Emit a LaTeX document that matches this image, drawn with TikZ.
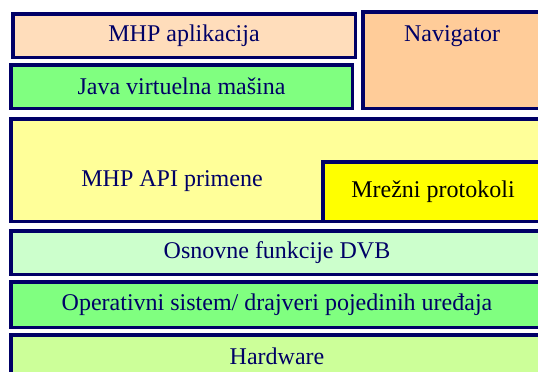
\documentclass[tikz,border=0pt]{standalone}
\usepackage{fontspec}
\setmainfont{Liberation Serif}
\usepackage{xcolor}
\definecolor{mhpnavy}{RGB}{0,0,102}
\definecolor{mhppeach}{RGB}{255,221,187}
\definecolor{mhporange}{RGB}{255,204,153}
\definecolor{mhpgreen}{RGB}{128,255,128}
\definecolor{mhpcream}{RGB}{255,255,153}
\definecolor{mhpyellow}{RGB}{255,255,0}
\definecolor{mhpmint}{RGB}{204,255,204}
\definecolor{mhplime}{RGB}{204,255,153}
\usetikzlibrary{positioning}

\begin{document}
\begin{tikzpicture}[x=1pt, y=-1pt,
    layer/.style={draw=mhpnavy, line width=3.5pt, inner sep=0pt,
                  text=mhpnavy, font=\fontsize{24}{28}\selectfont},
    caption/.style={text=mhpnavy, inner sep=0pt,
                    font=\fontsize{24}{28}\selectfont}
  ]
    \useasboundingbox (0,0) rectangle (538,372);
    \clip (0,0) rectangle (538,372);

    % MHP aplikacija
    \node[layer, fill=mhppeach, minimum width=342.5pt, minimum height=43.5pt]
      (app) at (184,35.5) {MHP aplikacija};

    % Java virtuelna masina
    \node[layer, fill=mhpgreen, minimum width=341.5pt, minimum height=43.5pt]
      (jvm) at (181.5,86.5) {Java virtuelna mašina};

    % Navigator
    \node[layer, fill=mhporange, minimum width=180.5pt, minimum height=96.5pt]
      (nav) at (453,60) {};
    \node[caption] (navtxt) at (452,36) {Navigator};

    % MHP API primene
    \node[layer, fill=mhpcream, minimum width=532.5pt, minimum height=102.5pt]
      (api) at (277,170) {};
    \node[caption] (apitxt) at (172,181) {MHP API primene};

    % Mrezni protokoli
    \node[layer, fill=mhpyellow, text=black, minimum width=220.5pt, minimum height=59.5pt]
      (net) at (433,191.5) {Mrežni protokoli};

    % Osnovne funkcije DVB
    \node[layer, fill=mhpmint, minimum width=532.5pt, minimum height=43.5pt]
      (dvb) at (277,252.5) {Osnovne funkcije DVB};

    % Operativni sistem
    \node[layer, fill=mhpgreen, minimum width=532.5pt, minimum height=45.5pt]
      (os) at (277,304.5) {Operativni sistem/ drajveri pojedinih uređaja};

    % Hardware
    \node[layer, fill=mhplime, minimum width=532.5pt, minimum height=43.5pt]
      (hw) at (277,356.5) {Hardware};
  \end{tikzpicture}
\end{document}
